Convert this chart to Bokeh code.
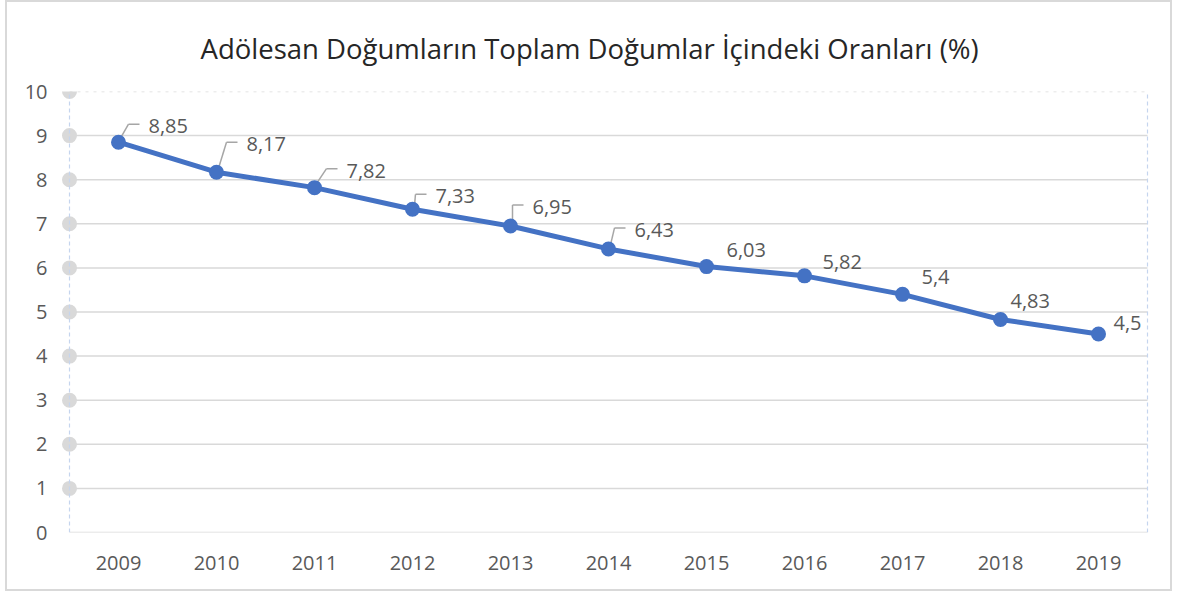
from bokeh.plotting import figure
from bokeh.models import ColumnDataSource, FixedTicker, Range1d
from bokeh.embed import file_html
from bokeh.resources import INLINE
from bokeh.core.properties import value

years = ["2009", "2010", "2011", "2012", "2013", "2014", "2015", "2016", "2017", "2018", "2019"]
rates = [8.85, 8.17, 7.82, 7.33, 6.95, 6.43, 6.03, 5.82, 5.4, 4.83, 4.5]
labels = ["8,85", "8,17", "7,82", "7,33", "6,95", "6,43", "6,03", "5,82", "5,4", "4,83", "4,5"]
y_ticks = [0, 1, 2, 3, 4, 5, 6, 7, 8, 9, 10]
title_text = "Adölesan Doğumların Toplam Doğumlar İçindeki Oranları (%)"

# label placement (screen px offsets from the point) and leader flags
lab_dx = [30, 30, 32, 23, 22, 26, 20, 18, 19, 10, 15]
lab_dy = [-16, -28, -17, -13, -19, -19, -17, -14, -17, -18, -11]
leader = [True, True, True, True, True, True, False, False, False, False, False]

W, H = 1167, 591
PADL, PADR = 14, 4
ML, MR, MT, MB = 48, 23, 89, 61

n = len(years)
xs = list(range(n))
x0, x1 = -0.5, n - 0.5
y0, y1 = 0, 10
pxx = 1078 / (x1 - x0)
pxy = 441 / (y1 - y0)

FONT = "Open Sans"
GRAY_TXT = "#595959"
GRID = "#d9d9d9"
BLUE = "#4472C4"

p = figure(width=W, height=H, output_backend="svg", toolbar_location=None,
           x_range=Range1d(x0 - PADL / pxx, x1 + PADR / pxx), y_range=Range1d(y0, y1),
           min_border_left=ML, min_border_right=MR, min_border_top=MT, min_border_bottom=MB,
           title=title_text)
p.styles = {"border": "2px solid #d9d9d9", "margin-left": "5px"}
p.title.align = "left"
p.title.text_font = FONT
p.title.text_font_size = "27.5px"
p.title.text_font_style = "normal"
p.title.text_color = "#262626"
p.title.offset = 145
p.title.standoff = 49

p.outline_line_color = None
p.background_fill_color = "white"
p.border_fill_color = "white"

# axes
p.xaxis.ticker = FixedTicker(ticks=xs)
p.xaxis.major_label_overrides = {i: y for i, y in enumerate(years)}
p.yaxis.ticker = FixedTicker(ticks=y_ticks)
for ax in (p.xaxis[0], p.yaxis[0]):
    ax.axis_line_color = None
    ax.major_tick_line_color = None
    ax.minor_tick_line_color = None
    ax.major_tick_out = 0
    ax.major_tick_in = 0
    ax.major_label_text_font = FONT
    ax.major_label_text_font_size = "20px"
    ax.major_label_text_color = GRAY_TXT
p.xaxis.major_label_standoff = 23
p.yaxis.major_label_standoff = 8

p.xgrid.grid_line_color = None
p.ygrid.grid_line_color = None

# horizontal gridlines (top one lighter and dotted)
solid = y_ticks[:-1]
p.segment(x0=[x0] * len(solid), y0=solid, x1=[x1] * len(solid), y1=solid,
          line_color=GRID, line_width=1.5)
p.segment(x0=[x0], y0=[y_ticks[-1]], x1=[x1], y1=[y_ticks[-1]],
          line_color="#dcdcdc", line_width=1.5, line_dash="3 5")
# gray dots on left axis
p.scatter(x=[x0] * 10, y=y_ticks[1:], size=15, color=GRID, line_color=None)
# light blue dashed vertical edges
p.segment(x0=[x0, x1], y0=[y0, y0], x1=[x0, x1], y1=[y1, y1],
          line_color="#c5d5ee", line_width=1.2, line_dash="4 3")

# leaders
lx0, ly0, lx1, ly1, hx1 = [], [], [], [], []
for i in range(n):
    if leader[i]:
        tl = lab_dx[i]
        ty = lab_dy[i] - 2
        lx0.append(xs[i] + 2 / pxx)
        ly0.append(rates[i] + 4 / pxy)
        lx1.append(xs[i] + (tl - 20) / pxx)
        ly1.append(rates[i] - ty / pxy)
        hx1.append(xs[i] + (tl - 9) / pxx)
p.segment(x0=lx0, y0=ly0, x1=lx1, y1=ly1, line_color="#a6a6a6", line_width=1.5)
p.segment(x0=lx1, y0=ly1, x1=hx1, y1=ly1, line_color="#a6a6a6", line_width=1.5)

src = ColumnDataSource(dict(x=xs, y=rates, lab=labels, dx=lab_dx, dy=lab_dy))
p.line("x", "y", source=src, line_color=BLUE, line_width=5)
p.scatter("x", "y", source=src, size=15, color=BLUE, line_color=None)
p.text("x", "y", text="lab", source=src, x_offset="dx", y_offset="dy",
       text_font=value(FONT), text_font_size="20px", text_color=GRAY_TXT,
       text_align="left", text_baseline="middle")

open("out.html", "w").write(file_html(p, INLINE))
